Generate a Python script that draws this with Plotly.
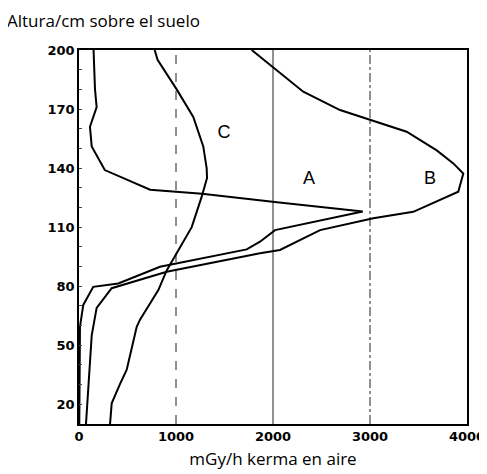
import plotly.graph_objects as go

# Curve A (dose rate mGy/h, height cm)
a_x = [150, 165, 182, 113, 131, 216, 266, 733, 1268, 2041, 2925,
       2021, 1866, 1729, 835, 405, 147, 44, 10, 3]
a_y = [200, 180, 171, 161, 151, 143, 139, 129, 127, 122.6, 118,
       108.5, 102.6, 98.7, 89.9, 81.4, 79.7, 70.5, 59.4, 10]

# Curve B
b_x = [1780, 1866, 2312, 2691, 3000, 3378, 3688, 3859, 3962, 3910, 3446,
       3034, 2485, 2072, 1866, 904, 337, 182, 131, 72]
b_y = [200, 196.6, 178.8, 169.5, 164.4, 158.5, 149, 142.4, 137.3, 128, 117.8,
       114.5, 108.5, 98.4, 96.7, 87.3, 79, 69, 55, 10]

# Curve C
c_x = [780, 810, 1007, 1178, 1281, 1316, 1320, 1265, 1162, 972, 904, 818,
       629, 595, 492, 420, 337, 320]
c_y = [200, 195, 180, 166, 151, 140, 135, 125.5, 110, 94, 88, 78,
       63, 59.4, 37.6, 30, 20.5, 10]

labels = ["A", "B", "C"]
label_x = [2371, 3619, 1495]
label_y = [134.4, 134.4, 157.8]

x_ticks = [0, 1000, 2000, 3000, 4000]
y_ticks = [20, 50, 80, 110, 140, 170, 200]
grid_x = [1000, 2000, 3000]
grid_dash = ["dash", "solid", "dashdot"]

fig = go.Figure()
for xs, ys in [(a_x, a_y), (b_x, b_y), (c_x, c_y)]:
    fig.add_trace(go.Scatter(x=xs, y=ys, mode="lines",
                             line=dict(color="black", width=2),
                             showlegend=False, hoverinfo="skip"))

fig.add_trace(go.Scatter(x=label_x, y=label_y, text=labels, mode="text",
                         textfont=dict(family="Liberation Sans", size=18, color="black"),
                         showlegend=False, hoverinfo="skip"))

for gx, gd in zip(grid_x, grid_dash):
    fig.add_vline(x=gx, line=dict(color="#222", width=1, dash=gd), layer="below")

fig.update_layout(
    width=479, height=466,
    margin=dict(l=71, r=20, t=42, b=50, autoexpand=False),
    plot_bgcolor="white", paper_bgcolor="white",
    font=dict(family="DejaVu Sans", color="black"),
    annotations=[dict(text="Altura/cm sobre el suelo", xref="paper", yref="paper",
                      x=-0.19, y=1.078, xanchor="left", yanchor="middle",
                      showarrow=False,
                      font=dict(family="Open Sans", size=17, color="black"))],
)
fig.update_xaxes(range=[0, 4000], tickvals=x_ticks, ticktext=[str(v) for v in x_ticks],
                 showgrid=False, zeroline=False, showline=True, mirror=True,
                 linecolor="black", linewidth=1.5, ticks="", automargin=False,
                 tickfont=dict(family="DejaVu Sans", size=13, weight="bold"),
                 title=dict(text="mGy/h kerma en aire", standoff=10,
                            font=dict(family="Open Sans", size=17)))
fig.update_yaxes(range=[10, 200], tickvals=y_ticks, ticktext=[str(v) for v in y_ticks],
                 showgrid=False, zeroline=False, showline=True, mirror=True,
                 linecolor="black", linewidth=1.5, ticks="inside", ticklen=3,
                 automargin=False,
                 minor=dict(ticks="inside", tickvals=list(range(10, 201, 10)), ticklen=3),
                 tickfont=dict(family="DejaVu Sans", size=13, weight="bold"))

fig.write_html("out.html")
